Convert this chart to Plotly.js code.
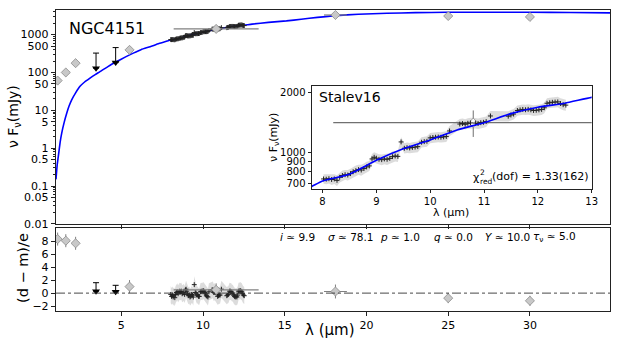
<!DOCTYPE html>
<html>
<head>
<meta charset="utf-8">
<script src="https://cdn.plot.ly/plotly-3.0.1.min.js"></script>
<style>
  body { margin: 0; background: #fff; }
  #sedChart { width: 623px; height: 346px; }
</style>
</head>
<body>
<div id="sedChart"></div>
<script>
// SED fit of NGC4151 (photometry + Stalev16 spectrum) with residual panel

// photometry (grey diamonds)
const phLam = [1.1, 1.6, 2.2, 5.5, 10.8, 18.1, 25.0, 30.0];
const phLamErr = [0.2, 0, 0, 0, 2.6, 0.7, 0, 0];
const phFlux = [61, 100, 176, 395, 1414, 3300, 3100, 2930];
const phFluxErr = [6, 10, 18, 40, 215, 330, 310, 290];
const phRes = [8.3, 8.05, 7.65, 1.0, 0.5, 0.25, -0.77, -1.18];
const phResErr = [1.0, 1.0, 1.0, 1.0, 1.0, 1.07, 0.77, 0.77];

// upper limits (black arrows)
const ulLam = [3.45, 4.65];
const ulFlux = [130, 182];
const ulFluxTop = [325, 454];
const ulRes = [0.3, 0.2];
const ulResTop = [1.6, 1.2];

// Stalev16 spectrum
const spLam = [8.02, 8.07, 8.12, 8.17, 8.22, 8.27, 8.32, 8.37, 8.42, 8.47,
  8.52, 8.57, 8.62, 8.67, 8.72, 8.77, 8.82, 8.87, 8.92, 8.96,
  9.00, 9.05, 9.10, 9.15, 9.20, 9.25, 9.30, 9.35, 9.40, 9.46,
  9.52, 9.57, 9.62, 9.67, 9.72, 9.77, 9.84, 9.89, 9.94, 10.00,
  10.05, 10.10, 10.15, 10.20, 10.25, 10.30, 10.36, 10.55, 10.60, 10.65,
  10.70, 10.75, 10.84, 10.89, 10.94, 10.99, 11.04, 11.12, 11.45, 11.50,
  11.55, 11.62, 11.67, 11.72, 11.77, 11.82, 11.87, 11.92, 11.97, 12.02,
  12.07, 12.12, 12.17, 12.22, 12.27, 12.32, 12.37, 12.42, 12.47, 12.52];
const spFlux = [738, 736, 740, 733, 738, 726, 752, 768, 775, 772,
  785, 802, 812, 822, 818, 832, 848, 858, 930, 948,
  938, 926, 922, 930, 926, 936, 955, 962, 958, 1132,
  1052, 1060, 1056, 1062, 1066, 1072, 1128, 1136, 1140, 1186,
  1192, 1195, 1198, 1195, 1200, 1206, 1285, 1392, 1400, 1388,
  1404, 1410, 1408, 1400, 1414, 1420, 1432, 1528, 1524, 1545,
  1562, 1628, 1640, 1648, 1642, 1650, 1640, 1628, 1632, 1640,
  1648, 1680, 1770, 1780, 1790, 1795, 1798, 1765, 1740, 1732];
const spErr = [40, 42, 40, 44, 42, 45, 44, 46, 44, 47,
  46, 48, 50, 48, 52, 50, 52, 50, 55, 56,
  55, 56, 58, 56, 58, 57, 60, 58, 60, 62,
  62, 64, 63, 65, 64, 66, 66, 68, 68, 70,
  70, 72, 71, 72, 73, 74, 76, 82, 83, 82,
  84, 85, 85, 86, 85, 87, 88, 90, 92, 92,
  94, 96, 97, 98, 98, 99, 100, 100, 101, 101,
  102, 104, 106, 106, 107, 108, 108, 108, 109, 110];
const spRes = [-0.2, -0.5, -0.3, -0.6, -0.4, -0.7, -0.2, 0.1, 0.2, -0.1,
  0.1, 0.3, 0.2, 0.3, -0.1, 0.0, 0.1, -0.2, 0.5, 0.6,
  0.3, -0.1, -0.4, -0.3, -0.6, -0.5, -0.2, -0.3, -0.6, 1.3,
  0.1, 0.0, -0.3, -0.3, -0.5, -0.5, 0.2, 0.3, 0.2, 0.4,
  0.3, 0.1, -0.1, -0.4, -0.5, -0.6, 0.2, 0.5, 0.5, 0.1,
  0.2, 0.1, -0.2, -0.5, -0.4, -0.3, -0.3, 0.6, -0.4, -0.3,
  -0.2, 0.3, 0.3, 0.2, 0.0, 0.0, -0.3, -0.5, -0.6, -0.5,
  -0.6, -0.3, 0.3, 0.3, 0.4, 0.3, 0.2, -0.1, -0.3, -0.4];
const RES_BAND = 1.3;

// best-fit model
const mLam = [1.0, 1.07, 1.14, 1.25, 1.35, 1.5, 1.66, 1.8, 1.96, 2.2,
  2.47, 2.75, 3.08, 3.4, 3.69, 4.2, 4.72, 5.2, 5.73, 6.2,
  6.76, 7.3, 7.8, 8.0, 8.5, 9.0, 9.5, 10.0, 10.5, 11.0,
  11.5, 12.0, 12.5, 13.0, 14.0, 15.1, 16.0, 17.0, 18.1, 19.5,
  21.25, 23.0, 24.9, 27.0, 30.0, 32.5, 35.0];
const mFlux = [0.15, 0.35, 0.6, 1.4, 2.5, 4.8, 8.5, 13, 19, 29,
  43, 56, 71, 88, 105, 145, 194, 250, 324, 400,
  480, 580, 676, 721, 780, 915, 1045, 1158, 1300, 1414,
  1570, 1690, 1770, 1895, 2100, 2300, 2550, 2850, 3170, 3450,
  3670, 3800, 3890, 3910, 3890, 3820, 3740];

const yTickVals = [0.01, 0.05, 0.1, 0.5, 1, 5, 10, 50, 100, 500, 1000];
const yTickText = ['0.01', '0.05', '0.1', '0.5', '1', '5', '10', '50', '100', '500', '1000'];
const resTickVals = [-2, 0, 2, 4, 6, 8];
const resTickText = ['\u22122', '0', '2', '4', '6', '8'];
const insetTickVals = [700, 800, 900, 1000, 2000];

const minorVals = [];
for (let e = -2; e <= 3; e++) {
  for (let m = 2; m <= 9; m++) {
    if (m !== 5) minorVals.push(m * Math.pow(10, e));
  }
}

const FRAME = '#222';
const GREY_FILL = '#c8c8c8';
const GREY_EDGE = '#8a8a8a';
const BLUE = '#0000ff';

function bandTraces(xs, lo, hi, xa, ya) {
  return [
    {x: xs, y: lo, xaxis: xa, yaxis: ya, type: 'scatter', mode: 'lines',
     line: {width: 0, color: 'rgba(0,0,0,0)'}, hoverinfo: 'skip'},
    {x: xs, y: hi, xaxis: xa, yaxis: ya, type: 'scatter', mode: 'lines',
     fill: 'tonexty', fillcolor: 'rgba(185,185,185,0.5)',
     line: {width: 0, color: 'rgba(0,0,0,0)'}, hoverinfo: 'skip'}
  ];
}

const specMarker = {symbol: 'cross-thin', size: 3.5, color: '#222', line: {width: 1, color: '#222'}};
const diamond = {symbol: 'diamond', size: 7, color: GREY_FILL, line: {width: 0.8, color: GREY_EDGE}};

const traces = [];

// --- main panel ---
traces.push({x: mLam, y: mFlux, xaxis: 'x', yaxis: 'y', type: 'scatter', mode: 'lines',
  line: {color: BLUE, width: 1.6, shape: 'spline', smoothing: 0.5}});
traces.push({x: spLam, y: spFlux, xaxis: 'x', yaxis: 'y', type: 'scatter', mode: 'markers',
  marker: specMarker});
traces.push({x: phLam, y: phFlux, xaxis: 'x', yaxis: 'y', type: 'scatter', mode: 'markers',
  marker: diamond,
  error_x: {type: 'data', array: phLamErr, color: '#808080', thickness: 1.2, width: 0},
  error_y: {type: 'data', array: phFluxErr, color: '#808080', thickness: 1, width: 0}});
traces.push({x: ulLam, y: ulFlux, xaxis: 'x', yaxis: 'y', type: 'scatter', mode: 'markers',
  marker: {symbol: 'triangle-down', size: 7, color: '#000'},
  error_y: {type: 'data', symmetric: false,
    array: ulFluxTop.map((t, i) => t - ulFlux[i]), arrayminus: ulFlux.map(() => 0),
    color: '#000', thickness: 1, width: 3}});

// --- residual panel ---
traces.push(...bandTraces(spLam, spRes.map(v => v - RES_BAND), spRes.map(v => v + RES_BAND), 'x2', 'y2'));
traces.push({x: spLam, y: spRes, xaxis: 'x2', yaxis: 'y2', type: 'scatter', mode: 'markers',
  marker: specMarker});
traces.push({x: phLam, y: phRes, xaxis: 'x2', yaxis: 'y2', type: 'scatter', mode: 'markers',
  marker: diamond,
  error_x: {type: 'data', array: phLamErr, color: '#808080', thickness: 1.2, width: 0},
  error_y: {type: 'data', array: phResErr, color: '#808080', thickness: 1, width: 0}});
traces.push({x: ulLam, y: ulRes, xaxis: 'x2', yaxis: 'y2', type: 'scatter', mode: 'markers',
  marker: {symbol: 'triangle-down', size: 7, color: '#000'},
  error_y: {type: 'data', symmetric: false,
    array: ulResTop.map((t, i) => t - ulRes[i]), arrayminus: ulRes.map(() => 0),
    color: '#000', thickness: 1, width: 3}});

// --- inset ---
traces.push(...bandTraces(spLam, spFlux.map((v, i) => v - spErr[i]), spFlux.map((v, i) => v + spErr[i]), 'x3', 'y3'));
traces.push({x: phLam, y: phFlux, xaxis: 'x3', yaxis: 'y3', type: 'scatter', mode: 'markers',
  marker: {symbol: 'diamond', size: 7, color: '#fff', line: {width: 0.8, color: GREY_EDGE}},
  error_x: {type: 'data', array: phLamErr, color: '#707070', thickness: 1.2, width: 0},
  error_y: {type: 'data', array: phFluxErr, color: '#707070', thickness: 1, width: 0}});
traces.push({x: spLam, y: spFlux, xaxis: 'x3', yaxis: 'y3', type: 'scatter', mode: 'markers',
  marker: specMarker});
traces.push({x: mLam, y: mFlux, xaxis: 'x3', yaxis: 'y3', type: 'scatter', mode: 'lines',
  line: {color: BLUE, width: 1.6, shape: 'spline', smoothing: 0.5}});

const axisBase = {
  showgrid: false, zeroline: false, showline: true, linecolor: FRAME, linewidth: 1.2,
  mirror: true, ticks: 'outside', ticklen: 4, tickwidth: 1, tickcolor: FRAME,
  tickfont: {size: 11, color: '#000'}, title: {text: ''}
};

function ann(text, x, y, size, extra) {
  return Object.assign({text: text, x: x / 623, y: 1 - y / 346, xref: 'paper', yref: 'paper',
    xanchor: 'center', yanchor: 'middle',
    showarrow: false, font: {size: size, color: '#000'}}, extra || {});
}

const annotations = [
  ann('NGC4151', 67, 29, 16, {xanchor: 'left'}),
  ann('Stalev16', 317, 96.5, 14, {xanchor: 'left'}),
  // chi^2_red with stacked super/subscript
  ann('\u03c7', 481.5, 177, 11, {xanchor: 'right'}),
  ann('2', 477.5, 172, 7.5, {xanchor: 'left'}),
  ann('red', 477.5, 181, 7.5, {xanchor: 'left'}),
  ann('(dof) = 1.33(162)', 490, 176.7, 11, {xanchor: 'left'}),
  ann('\u03bd F<sub>\u03bd</sub>(mJy)', 14, 117, 14, {textangle: -90}),
  ann('(d \u2212 m)/e', 23, 268, 14.5, {textangle: -90}),
  ann('\u03bb (\u03bcm)', 330, 330, 15),
  ann('\u03bb (\u03bcm)', 450.5, 212, 11),
  ann('\u03bd F<sub>\u03bd</sub>(mJy)', 274, 138, 11, {textangle: -90}),
  ann('<i>i</i> \u2243 9.9', 278, 237, 10.5, {xanchor: 'left'}),
  ann('<i>\u03c3</i> \u2243 78.1', 326, 237, 10.5, {xanchor: 'left'}),
  ann('<i>p</i> \u2243 1.0', 378, 237, 10.5, {xanchor: 'left'}),
  ann('<i>q</i> \u2243 0.0', 432, 237, 10.5, {xanchor: 'left'}),
  ann('<i>Y</i> \u2243 10.0', 483, 237, 10.5, {xanchor: 'left'}),
  ann('<i>\u03c4</i><sub>\u03bd</sub> \u2243 5.0', 531, 237, 10.5, {xanchor: 'left'})
];

const layout = {
  width: 623, height: 346,
  margin: {l: 0, r: 0, t: 0, b: 0},
  paper_bgcolor: '#fff', plot_bgcolor: '#fff',
  font: {family: 'DejaVu Sans', color: '#000'},
  showlegend: false,
  xaxis: Object.assign({}, axisBase, {domain: [56 / 623, 610 / 623], anchor: 'y', range: [1, 34.9],
    tickvals: [5, 10, 15, 20, 25, 30], showticklabels: false}),
  yaxis: Object.assign({}, axisBase, {domain: [1 - 224 / 346, 1 - 10 / 346], anchor: 'x', type: 'log',
    range: [-2.003, 3.65], tickvals: yTickVals, ticktext: yTickText,
    minor: {tickvals: minorVals, ticks: 'outside', ticklen: 2, tickcolor: FRAME}}),
  xaxis2: Object.assign({}, axisBase, {domain: [56 / 623, 610 / 623], anchor: 'y2', range: [1, 34.9],
    tickvals: [5, 10, 15, 20, 25, 30]}),
  yaxis2: Object.assign({}, axisBase, {domain: [1 - 310.7 / 346, 1 - 228 / 346], anchor: 'x2',
    range: [-2.7, 10], tickvals: resTickVals, ticktext: resTickText}),
  xaxis3: Object.assign({}, axisBase, {domain: [311.7 / 623, 591.7 / 623], anchor: 'y3', range: [7.8, 13],
    tickvals: [8, 9, 10, 11, 12, 13], ticklen: 3, tickfont: {size: 10, color: '#000'}}),
  yaxis3: Object.assign({}, axisBase, {domain: [1 - 189 / 346, 1 - 85.7 / 346], anchor: 'x3', type: 'log',
    range: [Math.log10(657), Math.log10(2168)], tickvals: insetTickVals, ticklen: 3,
    tickfont: {size: 10, color: '#000'}}),
  shapes: [{type: 'line', xref: 'x2 domain', yref: 'y2', x0: 0, x1: 1, y0: 0, y1: 0,
    line: {color: '#333', width: 0.9, dash: 'dashdot'}}],
  annotations: annotations
};

Plotly.newPlot('sedChart', traces, layout, {displayModeBar: false, staticPlot: true});
</script>
</body>
</html>
